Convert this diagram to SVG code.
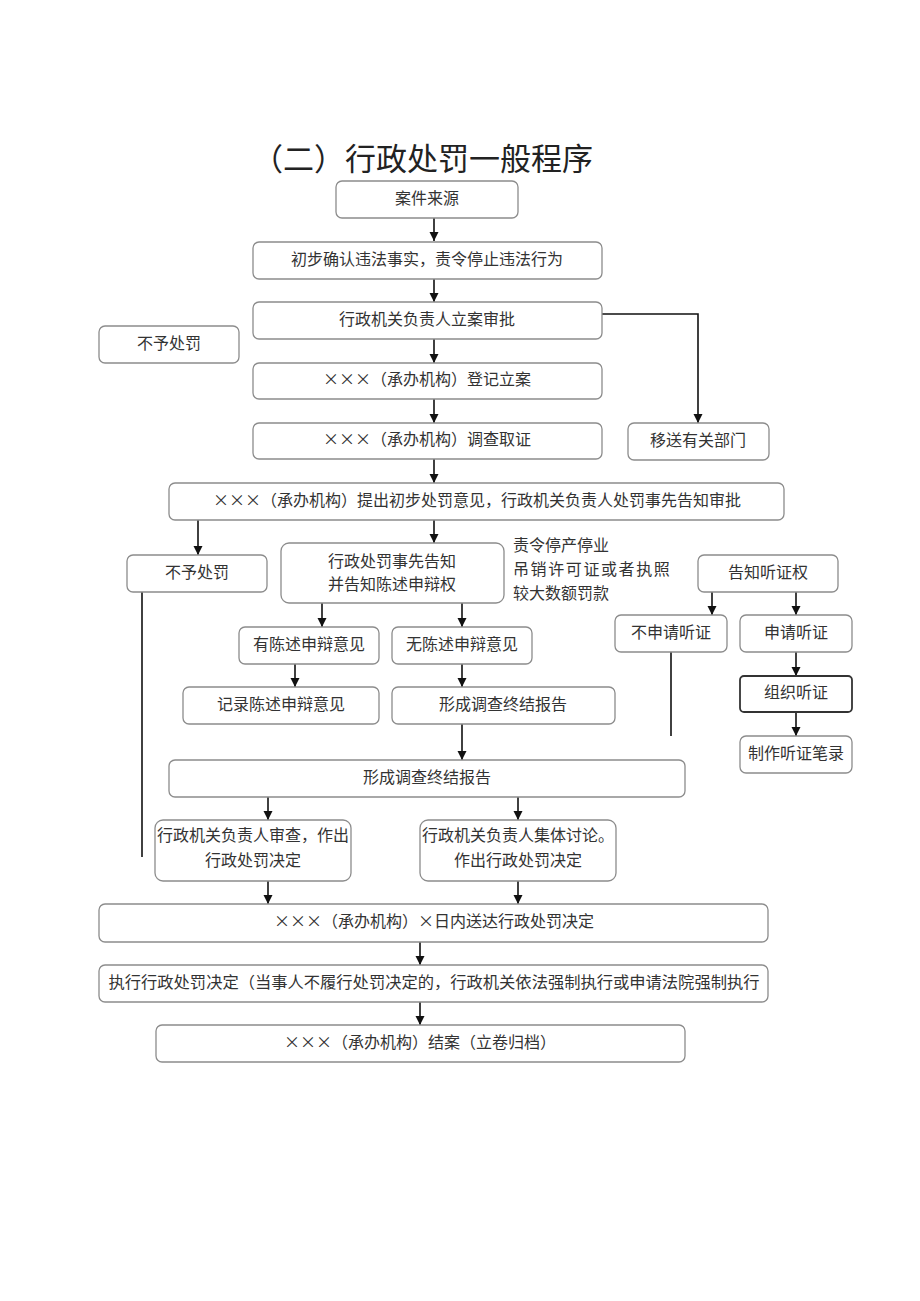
<svg xmlns="http://www.w3.org/2000/svg" width="920" height="1301" viewBox="0 0 920 1301">
<style>
.box{fill:#fff;stroke:#8c8c8c;stroke-width:1.3}
.bold{stroke:#333;stroke-width:1.8}
.t{font-family:"Noto Sans CJK SC","Liberation Sans",sans-serif;font-size:16px;fill:#333;text-anchor:middle}
.s{font-family:"Noto Sans CJK SC","Liberation Sans",sans-serif;font-size:16px;fill:#333}
.ln{stroke:#111;stroke-width:1.6;fill:none}
.arr{marker-end:url(#ah)}
.title{font-family:"Noto Sans CJK SC","Liberation Sans",sans-serif;font-size:31px;fill:#222}
</style>
<defs>
<marker id="ah" viewBox="0 0 10 10" refX="10" refY="5" markerUnits="userSpaceOnUse" markerWidth="9" markerHeight="10" orient="auto">
<path d="M0,0 L10,5 L0,10 z" fill="#111"/>
</marker>
</defs>
<rect width="920" height="1301" fill="#fff"/>
<text class="title" x="252" y="170">（二）行政处罚一般程序</text>

<g id="connectors">
<path class="ln arr" d="M434,218 V241"/>
<path class="ln arr" d="M434,279 V302"/>
<path class="ln arr" d="M434,339 V363"/>
<path class="ln arr" d="M602,314 H698 V423"/>
<path class="ln arr" d="M434,399 V423"/>
<path class="ln arr" d="M434,459 V483"/>
<path class="ln arr" d="M198,520 V555"/>
<path class="ln arr" d="M434,520 V543"/>
<path class="ln" d="M142,592 V857"/>
<path class="ln arr" d="M322,603 V627"/>
<path class="ln arr" d="M462,603 V627"/>
<path class="ln arr" d="M295,664 V687"/>
<path class="ln arr" d="M462,664 V687"/>
<path class="ln arr" d="M462,724 V760"/>
<path class="ln arr" d="M712,592 V615"/>
<path class="ln arr" d="M796,592 V615"/>
<path class="ln arr" d="M796,652 V676"/>
<path class="ln arr" d="M796,712 V736"/>
<path class="ln" d="M671,652 V736"/>
<path class="ln arr" d="M268,797 V820"/>
<path class="ln arr" d="M518,797 V820"/>
<path class="ln arr" d="M268,881 V904"/>
<path class="ln arr" d="M518,881 V904"/>
<path class="ln arr" d="M420,942 V965"/>
<path class="ln arr" d="M420,1002 V1025"/>
</g>

<g id="n-source"><rect class="box" x="336" y="181" width="182" height="37" rx="6"/><text class="t" x="427" y="203.5">案件来源</text></g>
<g id="n-confirm"><rect class="box" x="253" y="242" width="349" height="37" rx="6"/><text class="t" x="427" y="264.5">初步确认违法事实，责令停止违法行为</text></g>
<g id="n-approve"><rect class="box" x="253" y="302" width="349" height="37" rx="6"/><text class="t" x="427" y="324.5">行政机关负责人立案审批</text></g>
<g id="n-nopenalty1"><rect class="box" x="99" y="326" width="140" height="37" rx="6"/><text class="t" x="169" y="348.5">不予处罚</text></g>
<g id="n-register"><rect class="box" x="253" y="363" width="349" height="36" rx="6"/><text class="t" x="427" y="385">×××（承办机构）登记立案</text></g>
<g id="n-investigate"><rect class="box" x="253" y="423" width="349" height="36" rx="6"/><text class="t" x="427" y="445">×××（承办机构）调查取证</text></g>
<g id="n-transfer"><rect class="box" x="628" y="423" width="141" height="37" rx="6"/><text class="t" x="698" y="445.5">移送有关部门</text></g>
<g id="n-propose"><rect class="box" x="169" y="483" width="615" height="37" rx="6"/><text class="t" x="477" y="505.5">×××（承办机构）提出初步处罚意见，行政机关负责人处罚事先告知审批</text></g>
<g id="n-nopenalty2"><rect class="box" x="127" y="555" width="140" height="37" rx="6"/><text class="t" x="197" y="577.5">不予处罚</text></g>
<g id="n-notify"><rect class="box" x="281" y="543" width="223" height="60" rx="8"/><text class="t" x="392" y="567">行政处罚事先告知</text><text class="t" x="392" y="590">并告知陈述申辩权</text></g>
<g id="n-note"><text class="s" x="513" y="551">责令停产停业</text><text class="s" x="513" y="575" letter-spacing="1.6">吊销许可证或者执照</text><text class="s" x="513" y="599">较大数额罚款</text></g>
<g id="n-hearingright"><rect class="box" x="698" y="555" width="140" height="37" rx="6"/><text class="t" x="768" y="577.5">告知听证权</text></g>
<g id="n-nohearing"><rect class="box" x="615" y="615" width="112" height="37" rx="6"/><text class="t" x="671" y="637.5">不申请听证</text></g>
<g id="n-applyhearing"><rect class="box" x="740" y="615" width="112" height="37" rx="6"/><text class="t" x="796" y="637.5">申请听证</text></g>
<g id="n-organize"><rect class="box bold" x="740" y="676" width="112" height="36" rx="4"/><text class="t" x="796" y="698">组织听证</text></g>
<g id="n-record"><rect class="box" x="740" y="736" width="112" height="37" rx="6"/><text class="t" x="796" y="758.5">制作听证笔录</text></g>
<g id="n-hasdefense"><rect class="box" x="239" y="627" width="140" height="37" rx="6"/><text class="t" x="309" y="649.5">有陈述申辩意见</text></g>
<g id="n-nodefense"><rect class="box" x="392" y="627" width="140" height="37" rx="6"/><text class="t" x="462" y="649.5">无陈述申辩意见</text></g>
<g id="n-recorddefense"><rect class="box" x="183" y="687" width="196" height="37" rx="6"/><text class="t" x="281" y="709.5">记录陈述申辩意见</text></g>
<g id="n-report1"><rect class="box" x="392" y="687" width="223" height="37" rx="6"/><text class="t" x="503" y="709.5">形成调查终结报告</text></g>
<g id="n-report2"><rect class="box" x="169" y="760" width="516" height="37" rx="6"/><text class="t" x="427" y="782.5">形成调查终结报告</text></g>
<g id="n-review"><rect class="box" x="155" y="820" width="196" height="61" rx="8"/><text class="t" x="253" y="841">行政机关负责人审查，作出</text><text class="t" x="253" y="866">行政处罚决定</text></g>
<g id="n-collective"><rect class="box" x="420" y="820" width="196" height="61" rx="8"/><text class="t" x="518" y="841">行政机关负责人集体讨论。</text><text class="t" x="518" y="866">作出行政处罚决定</text></g>
<g id="n-deliver"><rect class="box" x="99" y="904" width="669" height="38" rx="6"/><text class="t" x="434" y="927">×××（承办机构）×日内送达行政处罚决定</text></g>
<g id="n-execute"><rect class="box" x="99" y="965" width="669" height="37" rx="6"/><text class="t" x="434" y="987.5" textLength="651" lengthAdjust="spacingAndGlyphs">执行行政处罚决定（当事人不履行处罚决定的，行政机关依法强制执行或申请法院强制执行</text></g>
<g id="n-close"><rect class="box" x="156" y="1025" width="529" height="37" rx="6"/><text class="t" x="420" y="1047.5">×××（承办机构）结案（立卷归档）</text></g>
</svg>
